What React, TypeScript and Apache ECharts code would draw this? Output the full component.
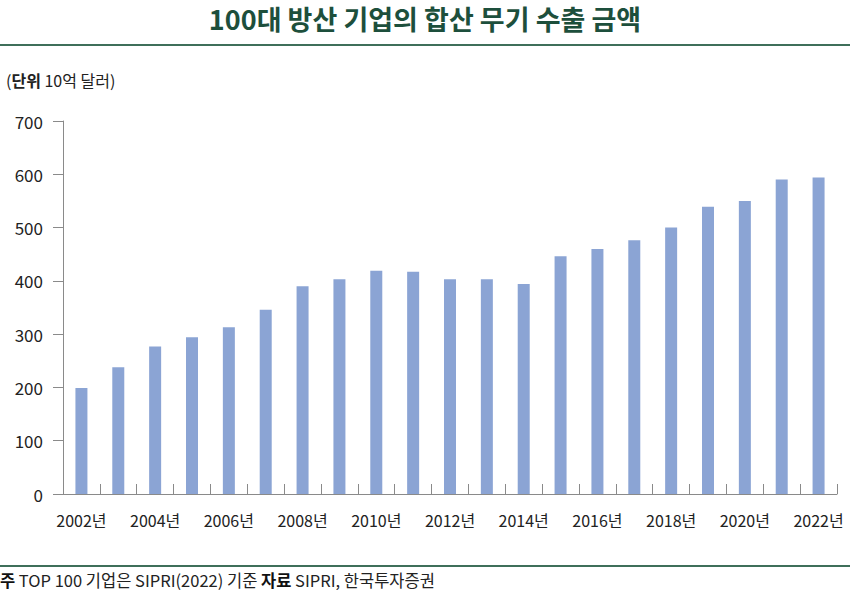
import React, { useEffect, useRef } from "react";
import * as echarts from "echarts";

const years = [
  "2002년", "2003년", "2004년", "2005년", "2006년", "2007년", "2008년",
  "2009년", "2010년", "2011년", "2012년", "2013년", "2014년", "2015년",
  "2016년", "2017년", "2018년", "2019년", "2020년", "2021년", "2022년",
];
const exportValues = [
  199, 238, 277, 294, 313, 346, 390, 403, 419, 417, 403, 403, 394, 446, 460,
  476, 500, 539, 550, 590, 594,
];
const yTicks = { min: 0, max: 700, interval: 100 };

const titleText = "100대 방산 기업의 합산 무기 수출 금액";
const unitBold = "단위";
const unitRest = " 10억 달러)";
const noteLabel = "주";
const noteText = " TOP 100 기업은 SIPRI(2022) 기준 ";
const sourceLabel = "자료";
const sourceText = " SIPRI, 한국투자증권";

const FONT = "'Noto Sans CJK KR', 'Noto Sans', sans-serif";

export default function App() {
  const ref = useRef<HTMLDivElement>(null);
  useEffect(() => {
    if (!ref.current) return;
    const chart = echarts.init(ref.current, null, { renderer: "svg" });
    chart.setOption({
      animation: false,
      backgroundColor: "#ffffff",
      textStyle: { fontFamily: FONT },
      grid: { left: 63, right: 13, top: 121, bottom: 101, containLabel: false },
      xAxis: {
        type: "category",
        data: years,
        boundaryGap: true,
        axisLine: { show: true, lineStyle: { color: "#8a8a8a", width: 1 } },
        axisTick: {
          show: true,
          inside: true,
          length: 10,
          interval: 0,
          lineStyle: { color: "#8a8a8a" },
        },
        axisLabel: {
          interval: 1,
          margin: 18,
          color: "#222",
          fontSize: 16,
          fontFamily: FONT,
        },
        splitLine: { show: false },
      },
      yAxis: {
        type: "value",
        min: yTicks.min,
        max: yTicks.max,
        interval: yTicks.interval,
        axisLine: { show: true, lineStyle: { color: "#8a8a8a", width: 1 } },
        axisTick: { show: true, length: 10, lineStyle: { color: "#8a8a8a" } },
        axisLabel: { margin: 20, color: "#222", fontSize: 17, fontFamily: FONT },
        splitLine: { show: false },
      },
      series: [
        {
          type: "bar",
          data: exportValues,
          barWidth: 12,
          itemStyle: { color: "#8ba4d4" },
        },
      ],
      graphic: [
        {
          type: "text",
          x: 425,
          y: 18,
          style: {
            text: titleText,
            fontSize: 27,
            fontWeight: "bold",
            fill: "#1d4f3c",
            fontFamily: FONT,
            align: "center",
            verticalAlign: "middle",
          },
        },
        {
          type: "rect",
          shape: { x: 0, y: 44, width: 850, height: 2 },
          style: { fill: "#3f6f5a" },
        },
        {
          type: "text",
          left: 6,
          top: 72,
          style: {
            text: "({b|" + unitBold + "}" + unitRest,
            fontSize: 16,
            fill: "#222",
            fontFamily: FONT,
            rich: {
              b: { fontWeight: "bold", fontSize: 16, fill: "#222", fontFamily: FONT },
            },
          },
        },
        {
          type: "rect",
          shape: { x: 0, y: 565, width: 850, height: 2 },
          style: { fill: "#3f6f5a" },
        },
        {
          type: "text",
          left: 0,
          top: 572,
          style: {
            text:
              "{b|" + noteLabel + "}" + noteText + "{b|" + sourceLabel + "}" + sourceText,
            fontSize: 16.5,
            fill: "#222",
            fontFamily: FONT,
            rich: {
              b: { fontWeight: "bold", fontSize: 16.5, fill: "#111", fontFamily: FONT },
            },
          },
        },
      ],
    });
    return () => chart.dispose();
  }, []);
  return (
    <div
      ref={ref}
      style={{ position: "fixed", left: 0, top: 0, width: 850, height: 595 }}
    />
  );
}
